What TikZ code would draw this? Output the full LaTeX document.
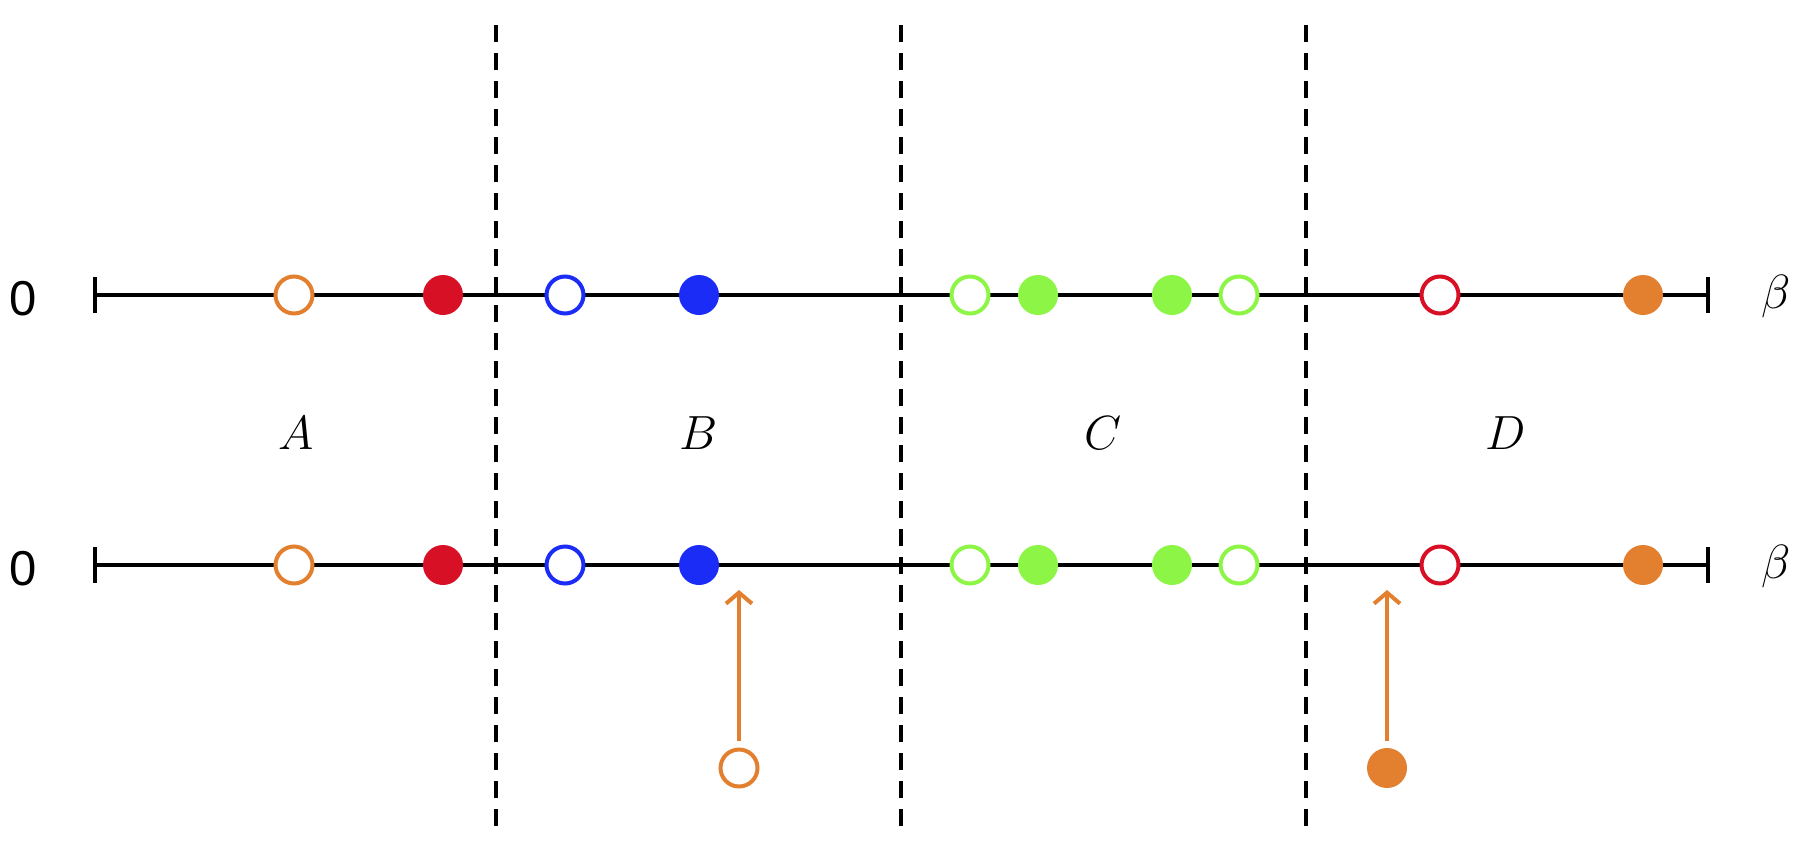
\RequirePackage{fix-cm}
\documentclass[tikz,border=0pt]{standalone}
\usepackage{fontspec}
\newfontfamily\sansf{Liberation Sans}
\usetikzlibrary{arrows.meta}
\definecolor{corange}{RGB}{226,128,48}
\definecolor{cred}{RGB}{216,16,38}
\definecolor{cblue}{RGB}{26,44,245}
\definecolor{cgreen}{RGB}{140,245,70}
\tikzset{
  axis/.style={line width=4pt,black},
  divider/.style={line width=4pt,black,dash pattern=on 17pt off 11pt},
  opendot/.style={circle,inner sep=0pt,minimum size=37pt,line width=4pt,fill=white},
  filldot/.style={circle,inner sep=0pt,minimum size=40pt},
  openO/.style={opendot,draw=corange},
  openR/.style={opendot,draw=cred},
  openB/.style={opendot,draw=cblue},
  openG/.style={opendot,draw=cgreen},
  fillO/.style={filldot,fill=corange},
  fillR/.style={filldot,fill=cred},
  fillB/.style={filldot,fill=cblue},
  fillG/.style={filldot,fill=cgreen},
  zerolab/.style={anchor=base,inner sep=0pt,font=\sansf\fontsize{49}{58}\selectfont},
  mathlab/.style={anchor=base,inner sep=0pt,font=\fontsize{48}{58}\selectfont},
  move/.style={line width=4pt,corange,-{Straight Barb[length=11pt,width=26pt,line width=4pt]}},
}
\begin{document}
\begin{tikzpicture}[x=1pt,y=-1pt]
\useasboundingbox (0,0) rectangle (1814,854);
% dividers
\foreach \i/\x in {1/496,2/901,3/1306}{
  \coordinate (d\i a) at (\x,25);
  \coordinate (d\i b) at (\x,833);
  \draw[divider] (d\i a) -- (d\i b);
}
% axes
\foreach \r/\y/\by in {t/295/315,b/565/585}{
  \coordinate (\r L) at (95,\y);
  \coordinate (\r R) at (1708,\y);
  \coordinate (\r La) at (95,\y-18);
  \coordinate (\r Lb) at (95,\y+18);
  \coordinate (\r Ra) at (1708,\y-18);
  \coordinate (\r Rb) at (1708,\y+18);
  \draw[axis] (\r L) -- (\r R);
  \draw[axis] (\r La) -- (\r Lb);
  \draw[axis] (\r Ra) -- (\r Rb);
  \node[zerolab] (\r zero) at (23,\by) {0};
  \node[mathlab] (\r beta) at (1776,\by-7) {$\beta$};
  \foreach \n/\x/\s in {1/294/openO,2/443/fillR,3/565/openB,4/699/fillB,5/970/openG,6/1038/fillG,7/1172/fillG,8/1239/openG,9/1440/openR,10/1643/fillO}{
    \node[\s] (\r\n) at (\x,\y) {};
  }
}
% region labels
\node[mathlab] (lA) at (296,449) {$A$};
\node[mathlab] (lB) at (699,449) {$B$};
\node[mathlab] (lC) at (1103,449) {$C$};
\node[mathlab] (lD) at (1506,449) {$D$};
% moving points
\node[openO] (m1) at (739,768) {};
\node[fillO] (m2) at (1387,768) {};
\coordinate (tip1) at (739,590);
\coordinate (tip2) at (1387,590);
\draw[move,shorten <=7pt] (m1.north) -- (tip1);
\draw[move,shorten <=7pt] (m2.north) -- (tip2);
\end{tikzpicture}
\end{document}
